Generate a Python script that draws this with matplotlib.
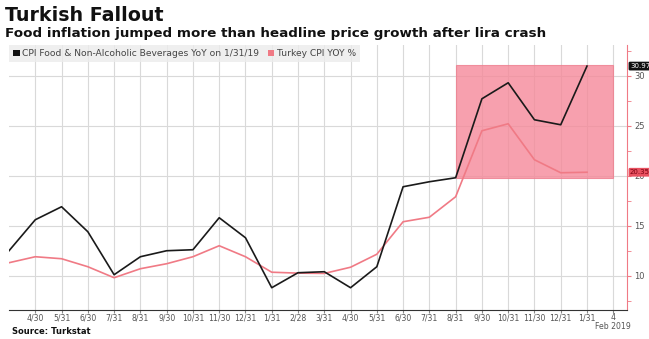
import matplotlib
matplotlib.use("Agg")
import matplotlib.pyplot as plt
from matplotlib.patches import Rectangle, Patch
from matplotlib.ticker import MultipleLocator

# Data (monthly, 3/31/2017 .. 1/31/2019)
months = ["3/31", "4/30", "5/31", "6/30", "7/31", "8/31", "9/30", "10/31", "11/30", "12/31",
          "1/31", "2/28", "3/31", "4/30", "5/31", "6/30", "7/31", "8/31", "9/30", "10/31",
          "11/30", "12/31", "1/31"]
food = [12.5, 15.6, 16.9, 14.4, 10.1, 11.9, 12.5, 12.6, 15.8, 13.8,
        8.8, 10.3, 10.4, 8.8, 10.9, 18.9, 19.4, 19.8, 27.7, 29.3,
        25.6, 25.1, 30.97]
cpi = [11.3, 11.9, 11.7, 10.9, 9.8, 10.7, 11.2, 11.9, 13.0, 11.9,
       10.35, 10.26, 10.23, 10.85, 12.15, 15.4, 15.85, 17.9, 24.5, 25.2,
       21.6, 20.3, 20.35]
tick_labels = months[1:] + ["4\nFeb 2019"]
box_start_idx = 17
box_end_idx = 23
box_low, box_high = 19.75, 31.1

fig = plt.figure(figsize=(6.49, 3.39), dpi=100)
ax = fig.add_axes([0.0139, 0.0855, 0.9525, 0.7815])

x = list(range(len(months)))

ax.add_patch(Rectangle((box_start_idx, box_low), box_end_idx - box_start_idx, box_high - box_low,
                       facecolor="#f5899a", alpha=0.8, edgecolor="#ee7d8e", linewidth=0.8, zorder=1))
ax.plot(x, cpi, color="#f07a85", lw=1.2, zorder=3)
ax.plot(x, food, color="#1a1a1a", lw=1.2, zorder=4)

ax.set_xlim(0, 23.53)
ax.set_ylim(6.57, 33.07)

ax.set_xticks(list(range(1, 24)))
ax.set_xticklabels(tick_labels, fontsize=5.6, color="#555555", linespacing=1.0)
ax.yaxis.tick_right()
ax.yaxis.set_minor_locator(MultipleLocator(2.5))
ax.set_yticks([10, 15, 20, 25, 30])
ax.set_yticklabels(["10", "15", "20", "25", "30"], fontsize=6, color="#555555")
ax.tick_params(axis="y", which="both", color="#f07a85", length=3, pad=2)
ax.tick_params(axis="x", color="#888888", length=2, pad=0.5)
ax.grid(True, which="major", color="#d9d9d9", lw=0.8, zorder=0)
ax.set_axisbelow(True)

for s in ["top", "left"]:
    ax.spines[s].set_visible(False)
ax.spines["right"].set_color("#f07a85")
ax.spines["bottom"].set_color("#333333")
ax.spines["bottom"].set_linewidth(0.8)

# value tags
ax.annotate("30.97", xy=(23.53, food[-1]), xycoords="data", xytext=(2, 0), textcoords="offset points",
            fontsize=5, color="white", va="center", ha="left", zorder=10,
            bbox=dict(boxstyle="round,pad=0.2", fc="#111111", ec="none"), annotation_clip=False)
ax.annotate("20.35", xy=(23.53, cpi[-1]), xycoords="data", xytext=(2, 0), textcoords="offset points",
            fontsize=5, color="#7a0010", va="center", ha="left", zorder=10,
            bbox=dict(boxstyle="round,pad=0.2", fc="#e8505f", ec="none"), annotation_clip=False)

# legend
leg = ax.legend([Patch(facecolor="#111111"), Patch(facecolor="#f07a85")],
                ["CPI Food & Non-Alcoholic Beverages YoY on 1/31/19", "Turkey CPI YOY %"],
                loc="upper left", bbox_to_anchor=(0, 1.0), ncol=2,
                fontsize=6.6, frameon=True, fancybox=False, handlelength=0.7, handleheight=0.7,
                handletextpad=0.3, columnspacing=0.9, borderpad=0.45, borderaxespad=0,
                labelcolor="#444444")
leg.get_frame().set_facecolor("#ececec")
leg.get_frame().set_edgecolor("none")
leg.set_zorder(5)

fig.text(0.008, 0.955, "Turkish Fallout", fontsize=13.7, fontweight="bold", color="#111111", va="center")
fig.text(0.008, 0.9, "Food inflation jumped more than headline price growth after lira crash",
         fontsize=9.7, fontweight="bold", color="#111111", va="center")
fig.text(0.018, 0.022, "Source: Turkstat", fontsize=6, fontweight="bold", color="#111111", va="center")

fig.savefig("out.png", dpi=100)
